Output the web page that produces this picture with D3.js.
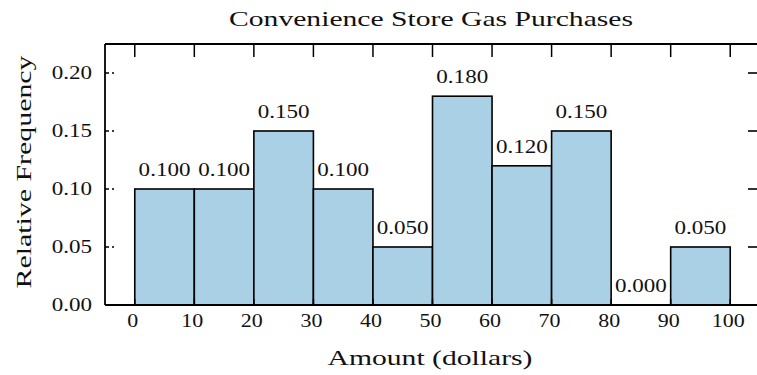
<!DOCTYPE html>
<html>
<head>
<meta charset="utf-8">
<script src="https://cdn.jsdelivr.net/npm/d3@7"></script>
<style>
  html, body { margin: 0; padding: 0; background: #fff; }
  svg { display: block; }
  text { font-family: "Liberation Serif", "Times New Roman", serif; fill: #111; }
</style>
</head>
<body>
<svg id="chart" width="757" height="375"></svg>
<script>
// Histogram of convenience-store gas purchase amounts
const binEdges = [0, 10, 20, 30, 40, 50, 60, 70, 80, 90, 100];
const relFreq  = [0.100, 0.100, 0.150, 0.100, 0.050, 0.180, 0.120, 0.150, 0.000, 0.050];
const xTicks   = [0, 10, 20, 30, 40, 50, 60, 70, 80, 90, 100];
const yTicks   = [0.00, 0.05, 0.10, 0.15, 0.20];

const titleText = "Convenience Store Gas Purchases";
const xLabel = "Amount (dollars)";
const yLabel = "Relative Frequency";

const W = 757, H = 375;
const plot = { left: 105, right: 760, top: 44, bottom: 305 };

const svg = d3.select("#chart");

const x = d3.scaleLinear().domain([-5, 105]).range([plot.left, plot.right]);
const y = d3.scaleLinear().domain([0, 0.225]).range([plot.bottom, plot.top]);

// widen glyphs horizontally by a fixed factor
const stretch = 1.28;
function widen(sel, k) {
  sel.each(function () {
    const len = this.getComputedTextLength();
    d3.select(this).attr("textLength", len * k).attr("lengthAdjust", "spacingAndGlyphs");
  });
}

const bins = relFreq.map((v, i) => ({ x0: binEdges[i], x1: binEdges[i + 1], v }));

// bars
svg.append("g").selectAll("rect").data(bins).join("rect")
  .attr("x", d => x(d.x0))
  .attr("y", d => y(d.v))
  .attr("width", d => x(d.x1) - x(d.x0))
  .attr("height", d => y(0) - y(d.v))
  .attr("fill", "#a9d0e4")
  .attr("stroke", "#000")
  .attr("stroke-width", 1.6);

// value labels above bars
svg.append("g").selectAll("text").data(bins).join("text")
  .attr("x", d => x((d.x0 + d.x1) / 2))
  .attr("y", d => y(d.v) - 13)
  .attr("text-anchor", "middle")
  .attr("font-size", 18)
  .text(d => d3.format(".3f")(d.v))
  .call(widen, stretch);

// spines: left, top, bottom, right
const frame = svg.append("g").attr("stroke", "#000").attr("stroke-width", 1.8).attr("fill", "none");
frame.append("line").attr("x1", plot.left).attr("x2", plot.left).attr("y1", plot.top).attr("y2", plot.bottom);
frame.append("line").attr("x1", plot.left).attr("x2", plot.right).attr("y1", plot.top).attr("y2", plot.top);
frame.append("line").attr("x1", plot.left).attr("x2", plot.right).attr("y1", plot.bottom).attr("y2", plot.bottom);
frame.append("line").attr("x1", plot.right).attr("x2", plot.right).attr("y1", plot.top).attr("y2", plot.bottom);

// x ticks: inward on top and bottom
const tickLen = 13;
const xt = svg.append("g").attr("stroke", "#000").attr("stroke-width", 1.5);
xt.selectAll(".top").data(xTicks).join("line").attr("class", "top")
  .attr("x1", d => x(d)).attr("x2", d => x(d))
  .attr("y1", plot.top).attr("y2", plot.top + tickLen);
xt.selectAll(".bot").data(xTicks).join("line").attr("class", "bot")
  .attr("x1", d => x(d)).attr("x2", d => x(d))
  .attr("y1", plot.bottom).attr("y2", plot.bottom - 6);

// y ticks: inward on left (light, dotted) and right
const yt = svg.append("g");
yt.selectAll(".l").data(yTicks).join("line").attr("class", "l")
  .attr("x1", plot.left).attr("x2", plot.left + 12)
  .attr("y1", d => y(d)).attr("y2", d => y(d))
  .attr("stroke", "#000").attr("stroke-width", 1.4).attr("stroke-dasharray", "4,3,2,3");
yt.selectAll(".r").data(yTicks).join("line").attr("class", "r")
  .attr("x1", plot.right - 12).attr("x2", plot.right)
  .attr("y1", d => y(d)).attr("y2", d => y(d))
  .attr("stroke", "#000").attr("stroke-width", 1.6);

// x tick labels
svg.append("g").selectAll("text").data(xTicks).join("text")
  .attr("x", d => x(d) - 2)
  .attr("y", 327)
  .attr("text-anchor", "middle")
  .attr("font-size", 18)
  .text(d => d)
  .call(widen, 1.22);

// y tick labels
svg.append("g").selectAll("text").data(yTicks).join("text")
  .attr("x", 92)
  .attr("y", d => y(d))
  .attr("dy", "0.35em")
  .attr("text-anchor", "end")
  .attr("font-size", 18)
  .text(d => d3.format(".2f")(d))
  .call(widen, stretch);

// title and axis labels
svg.append("text")
  .attr("x", 431).attr("y", 26)
  .attr("text-anchor", "middle")
  .attr("font-size", 21)
  .attr("textLength", 404).attr("lengthAdjust", "spacingAndGlyphs")
  .text(titleText);

svg.append("text")
  .attr("x", 430).attr("y", 365)
  .attr("text-anchor", "middle")
  .attr("font-size", 21)
  .attr("textLength", 205).attr("lengthAdjust", "spacingAndGlyphs")
  .text(xLabel);

svg.append("text")
  .attr("transform", "translate(31,172) rotate(-90)")
  .attr("text-anchor", "middle")
  .attr("font-size", 21)
  .attr("textLength", 233).attr("lengthAdjust", "spacingAndGlyphs")
  .text(yLabel);
</script>
</body>
</html>
